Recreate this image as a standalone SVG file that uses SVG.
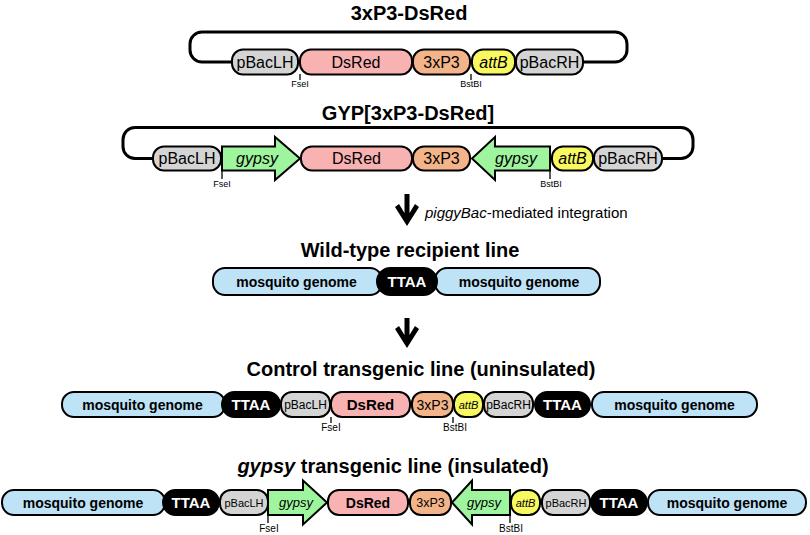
<svg xmlns="http://www.w3.org/2000/svg" width="810" height="535" viewBox="0 0 810 535">
<style>
text{font-family:"Liberation Sans",Arial,sans-serif;fill:#000}
.title{font-size:20px;font-weight:bold;text-anchor:middle}
.c{text-anchor:middle}
.it{font-style:italic}
.b{font-weight:bold}
.w{fill:#fff}
.box{stroke:#000;stroke-width:2}
.loop{fill:none;stroke:#000;stroke-width:3}
.tick{stroke:#000;stroke-width:1.3}
.site{font-size:9px;text-anchor:middle}
.site2{font-size:10px;text-anchor:middle}
.gray{fill:#d4d4d4}
.pink{fill:#f8b2b2}
.peach{fill:#f4b489}
.yel{fill:#f8f860}
.grn{fill:#9ef59e}
.blue{fill:#bee2f6}
.blk{fill:#000}
.l1{font-size:16px}
.l4{font-size:12px}
</style>

<!-- Construct 1 -->
<g id="construct1">
<text class="title" x="409" y="20">3xP3-DsRed</text>
<path class="loop" d="M232,62 H202 A12,12 0 0 1 190,50 V44 A12,12 0 0 1 202,32 H615 A12,12 0 0 1 627,44 V50 A12,12 0 0 1 615,62 H583"/>
<g id="c1-pBacLH"><rect class="box gray" x="232" y="49.5" width="66" height="25" rx="11"/><text class="c l1" x="265" y="67.5">pBacLH</text></g>
<g id="c1-DsRed"><rect class="box pink" x="300" y="49.5" width="112" height="25" rx="11"/><text class="c l1" x="356" y="67.5">DsRed</text></g>
<g id="c1-3xP3"><rect class="box peach" x="413" y="49.5" width="57" height="25" rx="11"/><text class="c l1" x="441.5" y="67.5">3xP3</text></g>
<g id="c1-attB"><rect class="box yel" x="472" y="49.5" width="43" height="25" rx="11"/><text class="c l1 it" x="493.5" y="67.5">attB</text></g>
<g id="c1-pBacRH"><rect class="box gray" x="516" y="49.5" width="67" height="25" rx="11"/><text class="c l1" x="549.5" y="67.5">pBacRH</text></g>
<line class="tick" x1="300" y1="74" x2="300" y2="80"/><text class="site" x="300" y="87">FseI</text>
<line class="tick" x1="471" y1="74" x2="471" y2="80"/><text class="site" x="471" y="87">BstBI</text>
</g>

<!-- Construct 2 -->
<g id="construct2">
<text class="title" x="408" y="120">GYP[3xP3-DsRed]</text>
<path class="loop" d="M153,158.5 H135 A12,12 0 0 1 123,146.5 V139.5 A12,12 0 0 1 135,127.5 H681 A12,12 0 0 1 693,139.5 V146.5 A12,12 0 0 1 681,158.5 H662"/>
<g id="c2-pBacLH"><rect class="box gray" x="153" y="146.5" width="68" height="24" rx="11"/><text class="c l1" x="187" y="164">pBacLH</text></g>
<g id="c2-gypsyF"><polygon class="box grn" points="222,146.5 275,146.5 275,137 300,158.5 275,180 275,170.5 222,170.5"/><text class="c l1 it" x="257" y="164">gypsy</text></g>
<g id="c2-DsRed"><rect class="box pink" x="301" y="146.5" width="111" height="24" rx="11"/><text class="c l1" x="356.5" y="164">DsRed</text></g>
<g id="c2-3xP3"><rect class="box peach" x="413" y="146.5" width="57" height="24" rx="11"/><text class="c l1" x="441.5" y="164">3xP3</text></g>
<g id="c2-gypsyR"><polygon class="box grn" points="550,146.5 495,146.5 495,137 472,158.5 495,180 495,170.5 550,170.5"/><text class="c l1 it" x="516" y="164">gypsy</text></g>
<g id="c2-attB"><rect class="box yel" x="552" y="146.5" width="41" height="24" rx="11"/><text class="c l1 it" x="572.5" y="164">attB</text></g>
<g id="c2-pBacRH"><rect class="box gray" x="594" y="146.5" width="68" height="24" rx="11"/><text class="c l1" x="628" y="164">pBacRH</text></g>
<line class="tick" x1="222" y1="170" x2="222" y2="179"/><text class="site" x="222" y="187">FseI</text>
<line class="tick" x1="550" y1="170" x2="550" y2="179"/><text class="site" x="551" y="187">BstBI</text>
</g>

<!-- Connectors -->
<g id="connectors">
<polygon class="blk" points="404.5,194 409.5,194 409.5,213 415,204 419,207 407,226 395,207 399,204 404.5,213"/>
<polygon class="blk" points="404.5,318 409.5,318 409.5,335 415,326 419,329 407,348 395,329 399,326 404.5,335"/>
</g>
<text x="425" y="218" style="font-size:15px"><tspan class="it">piggyBac</tspan>-mediated integration</text>

<!-- Wild-type -->
<g id="wildtype">
<text class="title" x="410" y="257">Wild-type recipient line</text>
<g id="wt-mg1"><rect class="box blue" x="213" y="268" width="169" height="27" rx="12"/><text class="c b" style="font-size:14px" x="296.5" y="286.5">mosquito genome</text></g>
<g id="wt-mg2"><rect class="box blue" x="435" y="268" width="165" height="27" rx="12"/><text class="c b" style="font-size:14px" x="519" y="286.5">mosquito genome</text></g>
<g id="wt-TTAA"><rect class="box blk" x="377" y="268" width="60" height="27" rx="13.5"/><text class="c b w" style="font-size:15px" x="407" y="287">TTAA</text></g>
</g>

<!-- Control line -->
<g id="control">
<text class="title" x="421" y="376">Control transgenic line (uninsulated)</text>
<g id="ct-mg1"><rect class="box blue" x="62" y="392" width="163" height="25" rx="12"/><text class="c b" style="font-size:14px" x="142.5" y="409.5">mosquito genome</text></g>
<g id="ct-TTAA1"><rect class="box blk" x="222" y="392" width="58" height="25" rx="12.5"/><text class="c b w" style="font-size:15px" x="251" y="410">TTAA</text></g>
<g id="ct-pBacLH"><rect class="box gray" x="281" y="392" width="49" height="25" rx="11"/><text class="c l4" x="305.5" y="408.5">pBacLH</text></g>
<g id="ct-DsRed"><rect class="box pink" x="331" y="392" width="79" height="25" rx="11"/><text class="c b" style="font-size:15px" x="370.5" y="410">DsRed</text></g>
<g id="ct-3xP3"><rect class="box peach" x="412" y="392" width="41" height="25" rx="11"/><text class="c" style="font-size:14px" x="432.5" y="409.5">3xP3</text></g>
<g id="ct-attB"><rect class="box yel" x="454" y="392" width="29" height="25" rx="11"/><text class="c it" style="font-size:11px" x="468.5" y="408.5">attB</text></g>
<g id="ct-pBacRH"><rect class="box gray" x="484" y="392" width="49" height="25" rx="11"/><text class="c l4" x="508.5" y="408.5">pBacRH</text></g>
<g id="ct-TTAA2"><rect class="box blk" x="535" y="392" width="55" height="25" rx="12.5"/><text class="c b w" style="font-size:15px" x="562.5" y="410">TTAA</text></g>
<g id="ct-mg2"><rect class="box blue" x="592" y="392" width="165" height="25" rx="12"/><text class="c b" style="font-size:14px" x="674.5" y="409.5">mosquito genome</text></g>
<line class="tick" x1="331" y1="417" x2="331" y2="423"/><text class="site2" x="331" y="431">FseI</text>
<line class="tick" x1="453" y1="417" x2="453" y2="423"/><text class="site2" x="455" y="431">BstBI</text>
</g>

<!-- gypsy line -->
<g id="gypsyline">
<text class="title" x="393" y="473"><tspan class="it">gypsy</tspan> transgenic line (insulated)</text>
<g id="gy-mg1"><rect class="box blue" x="2" y="490" width="163" height="25" rx="12"/><text class="c b" style="font-size:14px" x="83" y="507.5">mosquito genome</text></g>
<g id="gy-TTAA1"><rect class="box blk" x="163" y="490" width="56" height="25" rx="12.5"/><text class="c b w" style="font-size:15px" x="191" y="508">TTAA</text></g>
<g id="gy-pBacLH"><rect class="box gray" x="220" y="490" width="48" height="25" rx="11"/><text class="c" style="font-size:11px" x="244" y="506.5">pBacLH</text></g>
<g id="gy-gypsyF"><polygon class="box grn" points="268,490 303,490 303,480.5 327,502.5 303,524.5 303,515 268,515"/><text class="c it" style="font-size:13px" x="296" y="507">gypsy</text></g>
<g id="gy-DsRed"><rect class="box pink" x="328" y="490" width="80" height="25" rx="11"/><text class="c b" style="font-size:14px" x="368" y="507.5">DsRed</text></g>
<g id="gy-3xP3"><rect class="box peach" x="410" y="490" width="41" height="25" rx="11"/><text class="c" style="font-size:12.5px" x="430.5" y="507">3xP3</text></g>
<g id="gy-gypsyR"><polygon class="box grn" points="510,490 472,490 472,480.5 452,502.5 472,524.5 472,515 510,515"/><text class="c it" style="font-size:13px" x="484" y="507">gypsy</text></g>
<g id="gy-attB"><rect class="box yel" x="511" y="490" width="29" height="25" rx="11"/><text class="c it" style="font-size:11px" x="525.5" y="506.5">attB</text></g>
<g id="gy-pBacRH"><rect class="box gray" x="542" y="490" width="48" height="25" rx="11"/><text class="c" style="font-size:11px" x="566" y="506.5">pBacRH</text></g>
<g id="gy-TTAA2"><rect class="box blk" x="591" y="490" width="56" height="25" rx="12.5"/><text class="c b w" style="font-size:15px" x="619" y="508">TTAA</text></g>
<g id="gy-mg2"><rect class="box blue" x="648" y="490" width="158" height="25" rx="12"/><text class="c b" style="font-size:14px" x="727" y="507.5">mosquito genome</text></g>
<line class="tick" x1="268" y1="515" x2="268" y2="523"/><text class="site2" x="269" y="532">FseI</text>
<line class="tick" x1="510" y1="515" x2="510" y2="523"/><text class="site2" x="511" y="532">BstBI</text>
</g>
</svg>
